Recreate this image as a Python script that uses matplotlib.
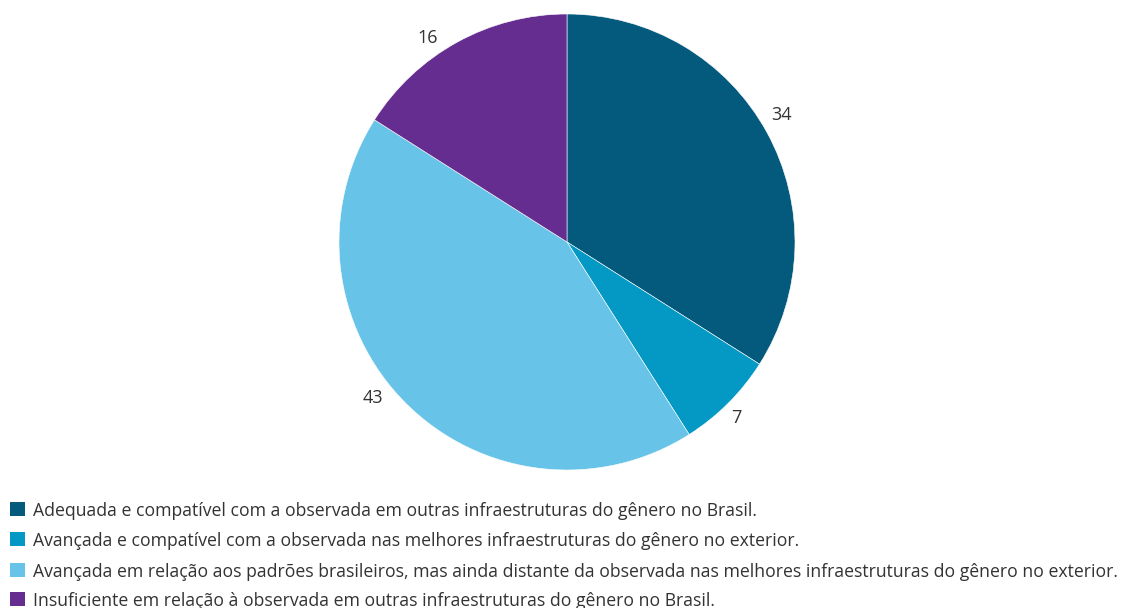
import matplotlib
matplotlib.use("Agg")
import matplotlib.pyplot as plt
from matplotlib.patches import Rectangle

plt.rcParams['font.family'] = ['Open Sans', 'DejaVu Sans']

values = [34, 7, 43, 16]
labels = [
    "Adequada e compatível com a observada em outras infraestruturas do gênero no Brasil.",
    "Avançada e compatível com a observada nas melhores infraestruturas do gênero no exterior.",
    "Avançada em relação aos padrões brasileiros, mas ainda distante da observada nas melhores infraestruturas do gênero no exterior.",
    "Insuficiente em relação à observada em outras infraestruturas do gênero no Brasil.",
]
colors = ["#035a7c", "#0499c4", "#67c3e7", "#652d90"]
text_color = "#333333"

W, H = 1126, 608
fig = plt.figure(figsize=(W / 100, H / 100), dpi=100)

# pie axes: centre (567, 242) px, radius 228 px
cx, cy, r = 567, 242, 228
ax = fig.add_axes([(cx - r) / W, (H - cy - r) / H, 2 * r / W, 2 * r / H])
wedges, texts = ax.pie(
    values, colors=colors, startangle=90, counterclock=False,
    labels=[str(v) for v in values], labeldistance=1.09,
    wedgeprops=dict(edgecolor="white", linewidth=0.4),
    textprops=dict(fontsize=13, color=text_color, ha="center", va="center"),
)
# value labels sit just outside the rim, nudged off the radial line
label_xy = [(0.939, 0.557), (0.743, -0.774), (-0.851, -0.686), (-0.610, 0.895)]
for t, xy in zip(texts, label_xy):
    t.set_position(xy)
ax.set_xlim(-1, 1)
ax.set_ylim(-1, 1)
ax.set_aspect("equal")
ax.axis("off")

# legend rows
row_y = [508.5, 539.2, 569.8, 599.0]
for lab, col, y in zip(labels, colors, row_y):
    fig.patches.append(Rectangle((10 / W, (H - y - 7) / H), 14.5 / W, 14 / H,
                                 transform=fig.transFigure, facecolor=col,
                                 edgecolor="none"))
    fig.text(33 / W, (H - y) / H, lab, fontsize=12.7, color=text_color,
             ha="left", va="center_baseline")

fig.savefig("out.png", dpi=100)
